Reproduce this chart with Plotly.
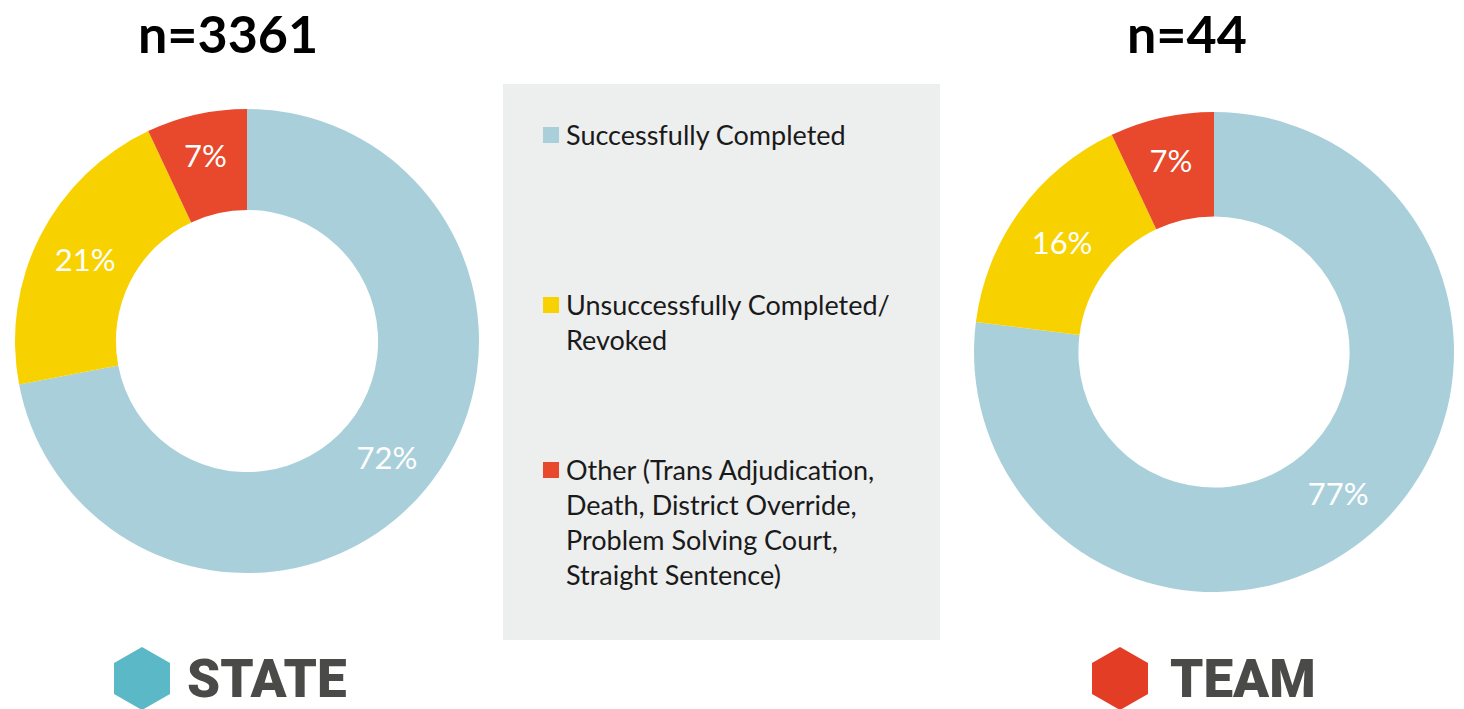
import plotly.graph_objects as go

# Outcome categories (legend text; <br> marks the wrapped lines)
categories = [
    "Successfully Completed",
    "Unsuccessfully Completed/<br>Revoked",
    "Other (Trans Adjudication,<br>Death, District Override,<br>Problem Solving Court,<br>Straight Sentence)",
]
short_labels = ["Successfully Completed", "Unsuccessfully Completed/Revoked", "Other"]

# Percent of cases per outcome
state_pct = [72, 21, 7]
team_pct = [77, 16, 7]

# Group sizes and group names
state_n = 3361
team_n = 44
group_names = ["STATE", "TEAM"]

colors = ["#A9D0DA", "#F8D200", "#E8482B"]
hex_colors = ["#5BB8C6", "#E33D26"]

W, H = 1464, 709


def px(x):
    return x / W


def py(y):
    return 1 - y / H


def donut(values, cx, cy, r, name):
    return go.Pie(
        labels=short_labels,
        values=values,
        name=name,
        hole=0.565,
        sort=False,
        direction="clockwise",
        rotation=0,
        marker=dict(colors=colors, line=dict(width=0)),
        texttemplate="%{value}%",
        textposition="inside",
        insidetextorientation="horizontal",
        textfont=dict(family="Lato", size=31, color="white"),
        hoverinfo="label+value",
        showlegend=False,
        domain=dict(x=[px(cx - r), px(cx + r)], y=[py(cy + r), py(cy - r)]),
    )


fig = go.Figure()
fig.add_trace(donut(state_pct, 247, 341, 232, "STATE"))
fig.add_trace(donut(team_pct, 1214, 352, 240, "TEAM"))

shapes = []
annotations = []

# Grey legend panel
shapes.append(dict(type="rect", xref="paper", yref="paper",
                   x0=px(503), x1=px(940), y0=py(640), y1=py(84),
                   fillcolor="#EDEEEE", line=dict(width=0), layer="below"))

# Legend entries: swatch + wrapped label
legend_rows = [135, 305, 470]
for cat, col, yrow in zip(categories, colors, legend_rows):
    shapes.append(dict(type="rect", xref="paper", yref="paper",
                       x0=px(543), x1=px(559), y0=py(yrow + 8), y1=py(yrow - 8),
                       fillcolor=col, line=dict(width=0)))
    annotations.append(dict(xref="paper", yref="paper", x=px(564), y=py(yrow - 19),
                            xanchor="left", yanchor="top", align="left",
                            text=cat, showarrow=False,
                            font=dict(family="Lato", size=27, color="#1a1a1a")))

# Group sizes above each donut
for n, xc in zip([state_n, team_n], [228, 1187]):
    annotations.append(dict(xref="paper", yref="paper", x=px(xc), y=py(1),
                            xanchor="center", yanchor="top", borderpad=0,
                            text=f"<b>n={n}</b>", showarrow=False,
                            font=dict(family="Lato", size=52, color="#000000")))

# Hexagon badges with group names
for name, hc, hx, tx in zip(group_names, hex_colors, [142, 1120], [185, 1168]):
    top, ur, lr, bot = 647, 663, 694, 710
    path = (f"M {px(hx)} {py(top)} L {px(hx + 28)} {py(ur)} L {px(hx + 28)} {py(lr)} "
            f"L {px(hx)} {py(bot)} L {px(hx - 28)} {py(lr)} L {px(hx - 28)} {py(ur)} Z")
    shapes.append(dict(type="path", xref="paper", yref="paper", path=path,
                       fillcolor=hc, line=dict(width=0)))
    annotations.append(dict(xref="paper", yref="paper", x=px(tx), y=py(679),
                            xanchor="left", yanchor="middle",
                            text=name, showarrow=False,
                            font=dict(family="Roboto", size=53, weight=900,
                                      color="#4A4A48")))

fig.update_layout(
    width=W, height=H,
    margin=dict(l=0, r=0, t=0, b=0),
    paper_bgcolor="white", plot_bgcolor="white",
    shapes=shapes, annotations=annotations,
)

fig.write_html("out.html", config={"displayModeBar": False})
